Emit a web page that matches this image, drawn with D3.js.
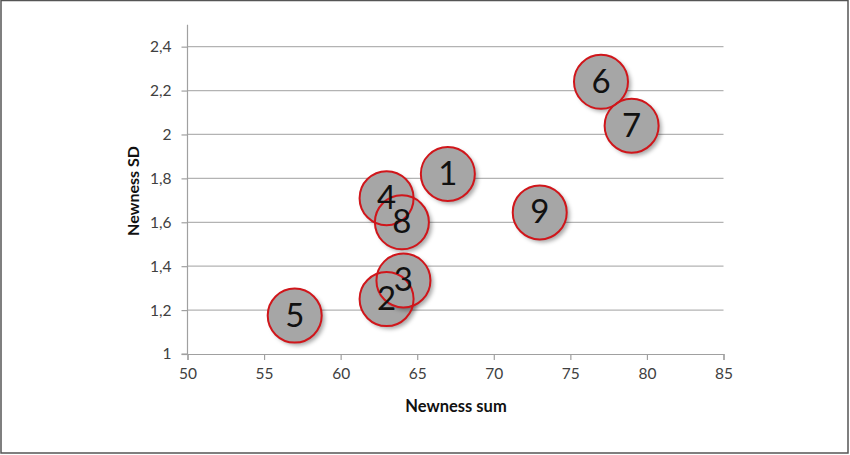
<!DOCTYPE html>
<html>
<head>
<meta charset="utf-8">
<script src="https://cdn.jsdelivr.net/npm/d3@7"></script>
<style>
  body { margin: 0; background: #fff; }
  svg { display: block; }
</style>
</head>
<body>
<div id="chart"></div>
<script>
// bubble data
var labels = ['1', '2', '3', '4', '5', '6', '7', '8', '9']
var newnessSum = [67, 63, 64.1, 63, 57, 77, 79, 64, 73]
var newnessSD = [1.82, 1.25, 1.335, 1.71, 1.175, 2.24, 2.04, 1.6, 1.645]
var xTicks = [50, 55, 60, 65, 70, 75, 80, 85]
var yTicks = [1, 1.2, 1.4, 1.6, 1.8, 2, 2.2, 2.4]

var width = 850
var height = 455
var font = 'Lato, "Open Sans", sans-serif'

var svg = d3.select('#chart')
  .append('svg')
  .attr('width', width)
  .attr('height', height)

// outer frame
svg.append('rect')
  .attr('x', 1).attr('y', 0.5)
  .attr('width', 847).attr('height', 452.5)
  .attr('fill', '#fff')
  .attr('stroke', '#555')
  .attr('stroke-width', 1.5)

var defs = svg.append('defs')
defs.append('filter')
  .attr('id', 'shadow')
  .attr('x', '-30%').attr('y', '-30%')
  .attr('width', '170%').attr('height', '170%')
  .append('feDropShadow')
  .attr('dx', 3).attr('dy', 3)
  .attr('stdDeviation', 2)
  .attr('flood-color', '#000')
  .attr('flood-opacity', 0.35)

var x = d3.scaleLinear().domain([50, 85]).range([187.5, 723.5])
var y = d3.scaleLinear().domain([1, 2.5]).range([354, 24.7])

// horizontal gridlines
svg.append('g')
  .selectAll('line')
  .data(yTicks.slice(1))
  .enter()
  .append('line')
  .attr('x1', x(50)).attr('x2', x(85))
  .attr('y1', function (d) { return y(d) })
  .attr('y2', function (d) { return y(d) })
  .attr('stroke', '#b3b3b3')
  .attr('stroke-width', 1.2)

// axes, with comma decimals
var fmt = function (d) { return String(d).replace('.', ',') }
var xAxis = svg.append('g')
  .attr('transform', 'translate(0,' + y(1) + ')')
  .call(d3.axisBottom(x).tickValues(xTicks).tickSize(6).tickPadding(8).tickFormat(fmt))
var yAxis = svg.append('g')
  .attr('transform', 'translate(' + x(50) + ',0)')
  .call(d3.axisLeft(y).tickValues(yTicks).tickSize(6).tickPadding(10).tickFormat(fmt))

;[xAxis, yAxis].forEach(function (a) {
  a.select('.domain').attr('stroke', '#a0a0a0').attr('stroke-width', 1.2)
  a.selectAll('.tick line').attr('stroke', '#a0a0a0').attr('stroke-width', 1.2)
  a.selectAll('.tick text')
    .attr('fill', '#404040')
    .style('font-family', font)
    .style('font-size', '15.5px')
})
yAxis.select('.domain').attr('d', 'M-6,' + y(1) + 'H0V' + y(2.5))

// axis titles
svg.append('text')
  .attr('x', 456).attr('y', 412)
  .attr('text-anchor', 'middle')
  .style('font-family', font)
  .style('font-size', '16.5px')
  .style('font-weight', 'bold')
  .attr('fill', '#111')
  .text('Newness sum')

svg.append('text')
  .attr('transform', 'translate(139,191) rotate(-90)')
  .attr('text-anchor', 'middle')
  .style('font-family', font)
  .style('font-size', '16px')
  .style('font-weight', 'bold')
  .attr('fill', '#111')
  .text('Newness SD')

// bubbles: fills first, then outlines, then numbers
var pts = labels.map(function (l, i) {
  return { label: l, x: newnessSum[i], y: newnessSD[i] }
})
var r = 27

svg.append('g')
  .selectAll('circle')
  .data(pts)
  .enter()
  .append('circle')
  .attr('cx', function (d) { return x(d.x) })
  .attr('cy', function (d) { return y(d.y) })
  .attr('r', r)
  .attr('fill', '#a6a6a6')
  .attr('filter', 'url(#shadow)')

svg.append('g')
  .selectAll('circle')
  .data(pts)
  .enter()
  .append('circle')
  .attr('cx', function (d) { return x(d.x) })
  .attr('cy', function (d) { return y(d.y) })
  .attr('r', r)
  .attr('fill', 'none')
  .attr('stroke', '#d0161b')
  .attr('stroke-width', 2)

svg.append('g')
  .selectAll('text')
  .data(pts)
  .enter()
  .append('text')
  .attr('x', function (d) { return x(d.x) })
  .attr('y', function (d) { return y(d.y) + 11 })
  .attr('text-anchor', 'middle')
  .style('font-family', font)
  .style('font-size', '33px')
  .attr('fill', '#111')
  .text(function (d) { return d.label })
</script>
</body>
</html>
